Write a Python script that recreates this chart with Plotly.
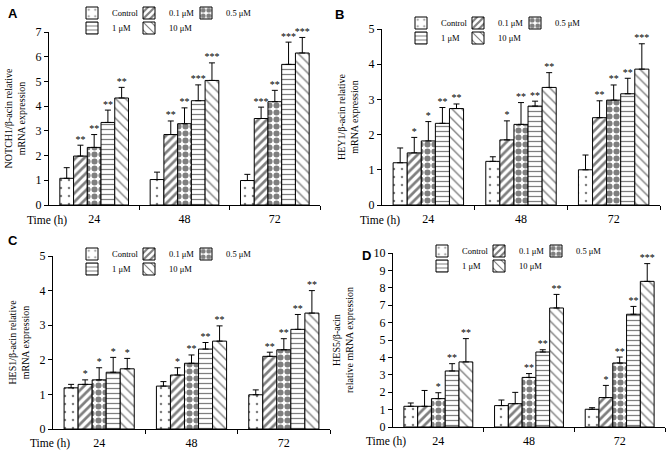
import plotly.graph_objects as go

# ---------------- data ----------------
TIMES = ["24", "48", "72"]
SERIES = ["Control", "0.1 μM", "0.5 μM", "1 μM", "10 μM"]

# each inner list: values at 24 h, 48 h, 72 h
NOTCH1_MEAN = [[1.08, 1.03, 0.99], [1.98, 2.85, 3.50], [2.33, 3.29, 4.18], [3.34, 4.22, 5.69], [4.33, 5.04, 6.15]]
NOTCH1_ERR = [[0.43, 0.30, 0.25], [0.44, 0.55, 0.46], [0.52, 0.64, 0.46], [0.50, 0.64, 0.90], [0.43, 0.71, 0.63]]
NOTCH1_STARS = [["", "", ""], ["**", "**", "***"], ["**", "**", "**"], ["**", "***", "***"], ["**", "***", "***"]]

HEY1_MEAN = [[1.20, 1.24, 1.00], [1.48, 1.85, 2.48], [1.82, 2.29, 2.98], [2.32, 2.81, 3.16], [2.74, 3.34, 3.86]]
HEY1_ERR = [[0.42, 0.13, 0.42], [0.44, 0.54, 0.48], [0.55, 0.62, 0.43], [0.45, 0.14, 0.44], [0.13, 0.42, 0.72]]
HEY1_STARS = [["", "", ""], ["*", "*", "**"], ["*", "**", "**"], ["**", "**", "**"], ["**", "**", "***"]]

HES1_MEAN = [[1.19, 1.24, 0.99], [1.29, 1.56, 2.10], [1.42, 1.90, 2.29], [1.64, 2.31, 2.88], [1.74, 2.54, 3.35]]
HES1_ERR = [[0.10, 0.13, 0.14], [0.13, 0.21, 0.12], [0.35, 0.24, 0.32], [0.43, 0.19, 0.43], [0.30, 0.44, 0.65]]
HES1_STARS = [["", "", ""], ["*", "*", "**"], ["*", "**", "**"], ["*", "**", "**"], ["*", "**", "**"]]

HES5_MEAN = [[1.19, 1.23, 1.02], [1.19, 1.34, 1.69], [1.63, 2.85, 3.68], [3.22, 4.31, 6.48], [3.74, 6.84, 8.37]]
HES5_ERR = [[0.19, 0.32, 0.09], [0.91, 0.65, 0.70], [0.34, 0.22, 0.34], [0.42, 0.13, 0.45], [1.34, 0.78, 1.02]]
HES5_STARS = [["", "", ""], ["", "", "*"], ["*", "**", "**"], ["**", "**", "**"], ["**", "**", "***"]]

Y_TITLES = ["NOTCH1/β-acin relative<br>mRNA expression",
            "HEY1/β-acin relative<br>mRNA expression",
            "HES1/β-acin relative<br>mRNA expression",
            "HES5/β-acin<br>relative mRNA expression"]
Y_MAX = [7, 5, 5, 10]
PANEL_LABELS = ["A", "B", "C", "D"]

# ---------------- layout helpers ----------------
W, H = 666, 454
SERIF = "Liberation Serif, Times New Roman, serif"
BARGAP = 0.24


def fx(p):
    return p / W


def fy(p):
    return 1 - p / H


PATTERNS = [
    dict(shape=".", size=8, solidity=0.08),
    dict(shape="/", size=6, solidity=0.45),
    dict(shape=".", size=7, solidity=0.6),
    dict(shape="-", size=5, solidity=0.25),
    dict(shape="\\", size=7, solidity=0.2),
]

# pixel geometry of each panel
GEOM = [
    dict(x0=49, x1=320, top=32, bot=205, lab=(13, 13), time=(47, 220), leg=(72, 13, 28), stand=8),
    dict(x0=382, x1=660, top=29, bot=205, lab=(339, 14), time=(380, 220), leg=(401, 23, 38), stand=8),
    dict(x0=53, x1=330, top=256, bot=429, lab=(13, 240), time=(50, 443), leg=(72, 254, 269), stand=8),
    dict(x0=393, x1=665, top=253, bot=427, lab=(366, 255), time=(386, 441), leg=(422, 251, 266), stand=18),
]
LEG_COL_DX = [0, 57, 114]

PANELS = [
    (NOTCH1_MEAN, NOTCH1_ERR, NOTCH1_STARS),
    (HEY1_MEAN, HEY1_ERR, HEY1_STARS),
    (HES1_MEAN, HES1_ERR, HES1_STARS),
    (HES5_MEAN, HES5_ERR, HES5_STARS),
]

fig = go.Figure()
xcat = list(range(len(TIMES)))
nser = len(SERIES)
bw = (1 - BARGAP) / nser

annotations = []
legend_count = 0
for p, (means, errs, stars) in enumerate(PANELS):
    g = GEOM[p]
    ax = "" if p == 0 else str(p + 1)
    for s in range(nser):
        legend_count += 1
        lid = "legend" if legend_count == 1 else f"legend{legend_count}"
        row = 0 if s < 3 else 1
        col = s if s < 3 else s - 3
        fig.add_trace(go.Bar(
            x=xcat, y=means[s], name=SERIES[s],
            xaxis="x" + ax, yaxis="y" + ax,
            legend=lid, showlegend=True,
            marker=dict(color="white", line=dict(color="black", width=1),
                        pattern=dict(fgcolor="black", bgcolor="white", **PATTERNS[s])),
            error_y=dict(type="data", array=errs[s], arrayminus=[0] * len(TIMES),
                         symmetric=False, color="black", thickness=1, width=3),
            hoverinfo="skip",
        ))
        fig.update_layout(**{lid: dict(
            x=fx(g["leg"][0] + LEG_COL_DX[col]), y=fy(g["leg"][1 + row]),
            xanchor="left", yanchor="middle", orientation="h",
            bgcolor="rgba(0,0,0,0)", borderwidth=0,
            font=dict(family=SERIF, size=8.5, color="black"),
            tracegroupgap=0, itemclick=False, itemdoubleclick=False,
        )})
        off = -(1 - BARGAP) / 2 + (s + 0.5) * bw
        fig.add_trace(go.Scatter(
            x=[c + off for c in xcat],
            y=[m + e for m, e in zip(means[s], errs[s])],
            text=stars[s], mode="text", textposition="top center",
            textfont=dict(family=SERIF, size=10, color="black"),
            xaxis="x" + ax, yaxis="y" + ax, showlegend=False,
            cliponaxis=False, hoverinfo="skip",
        ))

    fig.update_layout(**{
        "xaxis" + ax: dict(
            domain=[fx(g["x0"]), fx(g["x1"])], anchor="y" + ax, automargin=False,
            range=[-0.5, 2.5], tickvals=xcat, ticktext=TIMES, ticks="",
            ticklabelstandoff=3,
            showline=True, linecolor="black", linewidth=1, showgrid=False, zeroline=False,
            tickfont=dict(family=SERIF, size=12, color="black"),
            minor=dict(tickvals=[0.5, 1.5, 2.5], ticks="outside", ticklen=4,
                       tickcolor="black", tickwidth=1, showgrid=False),
        ),
        "yaxis" + ax: dict(
            domain=[fy(g["bot"]), fy(g["top"])], anchor="x" + ax, automargin=False,
            range=[0, Y_MAX[p]], dtick=1, ticks="outside", ticklen=4,
            tickcolor="black", tickwidth=1,
            showline=True, linecolor="black", linewidth=1, showgrid=False, zeroline=False,
            tickfont=dict(family=SERIF, size=12, color="black"),
            title=dict(text=Y_TITLES[p], font=dict(family=SERIF, size=10, color="black"),
                       standoff=g["stand"]),
        ),
    })
    annotations.append(dict(
        text="<b>" + PANEL_LABELS[p] + "</b>", x=fx(g["lab"][0]), y=fy(g["lab"][1]),
        xref="paper", yref="paper", showarrow=False, xanchor="center", yanchor="middle",
        font=dict(family="Liberation Sans, Arial, sans-serif", size=13, color="black"),
    ))
    annotations.append(dict(
        text="Time (h)", x=fx(g["time"][0]), y=fy(g["time"][1]),
        xref="paper", yref="paper", showarrow=False, xanchor="center", yanchor="middle",
        font=dict(family=SERIF, size=11.5, color="black"),
    ))

fig.update_layout(
    width=W, height=H, margin=dict(l=0, r=0, t=0, b=0, autoexpand=False),
    paper_bgcolor="white", plot_bgcolor="white",
    barmode="group", bargap=BARGAP, bargroupgap=0,
    annotations=annotations,
)

fig.write_html("out.html", config={"displayModeBar": False},
               post_script="document.body.style.margin = '0';")
